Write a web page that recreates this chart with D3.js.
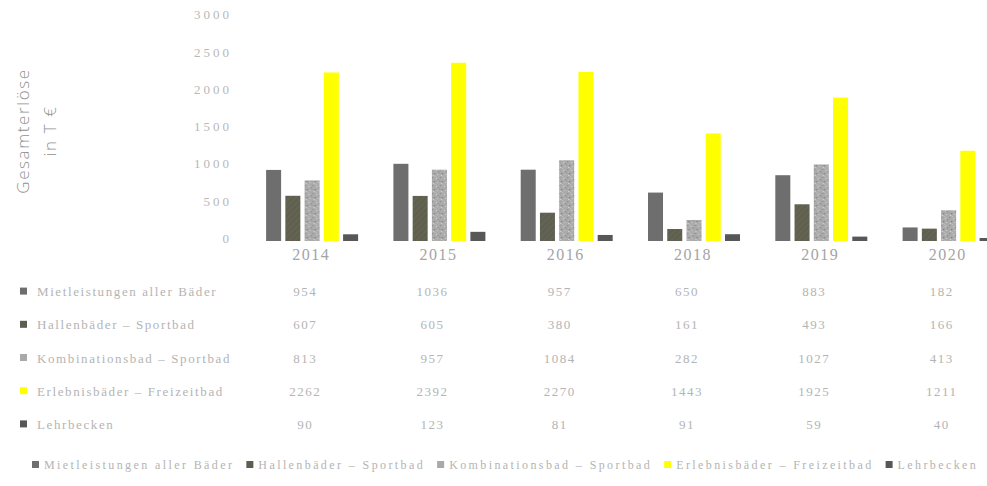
<!DOCTYPE html>
<html><head><meta charset="utf-8">
<script src="https://cdn.jsdelivr.net/npm/d3@7"></script>
<style>
html,body{margin:0;padding:0;background:#fff;}
svg{display:block;}
</style></head>
<body>
<svg id="c" width="987" height="486"></svg>
<script>
const years = ["2014","2015","2016","2018","2019","2020"];
const seriesNames = ["Mietleistungen aller Bäder","Hallenbäder – Sportbad","Kombinationsbad – Sportbad","Erlebnisbäder – Freizeitbad","Lehrbecken"];
const mietleistungen = [954,1036,957,650,883,182];
const hallenbaeder   = [607,605,380,161,493,166];
const kombibad       = [813,957,1084,282,1027,413];
const erlebnisbaeder = [2262,2392,2270,1443,1925,1211];
const lehrbecken     = [90,123,81,91,59,40];
const yTicks = [0,500,1000,1500,2000,2500,3000];
const yTitle = ["Gesamterlöse","in T €"];

const seriesValues = [mietleistungen,hallenbaeder,kombibad,erlebnisbaeder,lehrbecken];
const fills = ["#6e6e6e","url(#olive)","url(#speck)","#ffff00","#575757"];
const keyFills = ["#6e6e6e","#5d5d50","#a9a9a9","#ffff00","#575757"];
const SANS = "'Open Sans',sans-serif";
const SERIF = "'Liberation Serif',serif";

const svg = d3.select("#c");
const defs = svg.append("defs");
const po = defs.append("pattern").attr("id","olive").attr("patternUnits","userSpaceOnUse").attr("width",6).attr("height",6);
po.append("rect").attr("width",6).attr("height",6).attr("fill","#5f5f52");
po.append("path").attr("d","M0,6L6,0").attr("stroke","#6b6b4e").attr("stroke-width",1);
const ps = defs.append("pattern").attr("id","speck").attr("patternUnits","userSpaceOnUse").attr("width",8).attr("height",8);
ps.append("rect").attr("width",8).attr("height",8).attr("fill","#ababab");
[[1,1,"#8a8a8a"],[5,2,"#cfcfcf"],[3,5,"#7e7e7e"],[6,6,"#c4c4c4"],[0,4,"#999"],[4,0,"#bbb"],[2,7,"#d6d6d6"],[7,3,"#8f8f8f"]].forEach(d=>{
  ps.append("rect").attr("x",d[0]).attr("y",d[1]).attr("width",1.2).attr("height",1.2).attr("fill",d[2]);
});

const x0 = d3.scaleBand().domain(years).range([247.5, 247.5+6*127.3]).padding(0);
const x1 = d3.scaleBand().domain(d3.range(seriesNames.length)).range([18.6,110.6]).paddingInner(0.22).paddingOuter(0);
const y = d3.scaleLinear().domain([0,3000]).range([241,17.5]);

// y tick labels
const yAxis = d3.axisLeft(y).tickValues(yTicks).tickFormat(d3.format("d")).tickSize(0).tickPadding(0);
const ga = svg.append("g").attr("transform","translate(232,0)").call(yAxis);
ga.select(".domain").remove();
ga.selectAll("text").style("font-family",SERIF).attr("font-size",13).attr("fill","#b8b8b8").attr("letter-spacing","3px").attr("dy","0.1em");

// y title
const tt = svg.append("text").attr("transform","translate(0,131) rotate(-90)").attr("text-anchor","middle").attr("fill","#909090").style("font-family",SANS).attr("font-size",17).attr("font-weight",300).attr("letter-spacing","1.6px");
tt.append("tspan").attr("x",0).attr("y",29).text(yTitle[0]);
tt.append("tspan").attr("x",0).attr("y",56).text(yTitle[1]);

// bars
const groups = svg.append("g").selectAll("g").data(years).join("g").attr("transform",d=>`translate(${x0(d)},0)`);
groups.selectAll("rect").data((d,i)=>seriesValues.map((s,k)=>({k,v:s[i]}))).join("rect")
  .attr("x",d=>x1(d.k)).attr("width",x1.bandwidth())
  .attr("y",d=>y(d.v)).attr("height",d=>y(0)-y(d.v))
  .attr("fill",d=>fills[d.k]);

// x axis labels
const xAxis = d3.axisBottom(x0).tickSize(0).tickPadding(0);
const gx = svg.append("g").attr("transform","translate(0,249)").call(xAxis);
gx.select(".domain").remove();
gx.selectAll("text").style("font-family",SERIF).attr("font-size",16).attr("fill","#a4a4a4").attr("letter-spacing","1.5px");

// data table
const rowY = d3.scaleBand().domain(d3.range(seriesNames.length)).range([275,441]);
const table = svg.append("g");
seriesNames.forEach((name,k)=>{
  const cy = rowY(k)+rowY.bandwidth()/2;
  table.append("rect").attr("x",20).attr("y",cy-4).attr("width",7).attr("height",7).attr("fill",keyFills[k]);
  table.append("text").attr("x",37).attr("y",cy).attr("dy","0.35em").style("font-family",SERIF).attr("font-size",13).attr("fill","#b4b4b4").attr("letter-spacing","1.6px").text(name);
  years.forEach((yr,i)=>{
    table.append("text").attr("x",x0(yr)+x0.bandwidth()/2-6).attr("y",cy).attr("dy","0.35em").attr("text-anchor","middle")
      .style("font-family",SERIF).attr("font-size",13).attr("fill","#b4b4b4").attr("letter-spacing","1.5px").text(seriesValues[k][i]);
  });
});

// bottom legend
const leg = svg.append("g");
let lx = 32;
seriesNames.forEach((name,k)=>{
  leg.append("rect").attr("x",lx).attr("y",461).attr("width",7).attr("height",7).attr("fill",keyFills[k]);
  const t = leg.append("text").attr("x",lx+12).attr("y",465).attr("dy","0.35em").style("font-family",SERIF).attr("font-size",12).attr("fill","#b4b4b4").attr("letter-spacing","2.4px").text(name);
  lx += 12 + t.node().getComputedTextLength() + 12;
});
</script>
</body></html>
